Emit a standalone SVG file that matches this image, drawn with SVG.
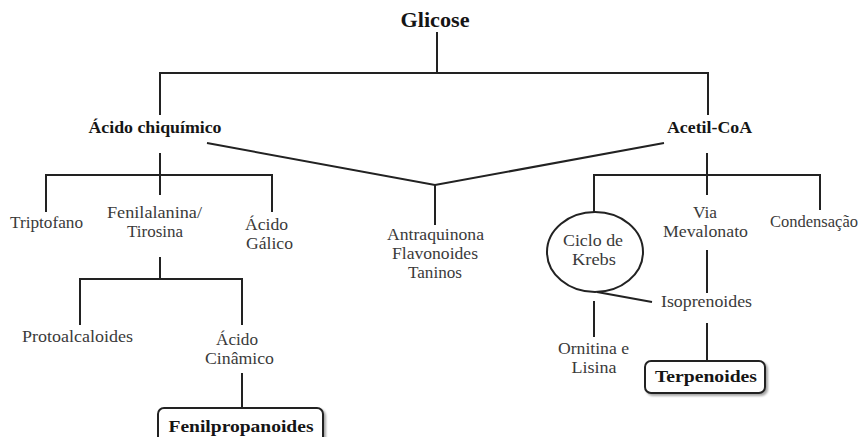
<svg xmlns="http://www.w3.org/2000/svg" width="867" height="437" viewBox="0 0 867 437">
<defs>
<style>
text{font-family:'Liberation Serif','Times New Roman',serif}
.t{font-size:16px;fill:#3a3a3a;text-anchor:middle}
.b{font-weight:bold;font-size:16px;fill:#151515;text-anchor:middle}
.ln{fill:none;stroke:#222;stroke-width:2}
.box{fill:#fff;stroke:#222;stroke-width:2}
</style>
<filter id="sh" x="-10%" y="-30%" width="130%" height="170%">
<feDropShadow dx="2" dy="2" stdDeviation="1.2" flood-color="#000" flood-opacity="0.35"/>
</filter>
</defs>
<rect width="867" height="437" fill="#fff"/>
<g id="connectors" class="ln">
<path d="M437 32V73"/>
<path d="M160 115V73H708V115"/>
<path d="M207 143L435 185L664 143"/>
<path d="M435 185V225"/>
<path d="M160 153V195"/>
<path d="M46 212V175H272V212"/>
<path d="M160 257V279"/>
<path d="M80 325V279H242V325"/>
<path d="M242 373V408"/>
<path d="M707 153V195"/>
<path d="M594 212V175H820V210"/>
<path d="M707 250V293"/>
<path d="M597 292L652 302"/>
<path d="M594 301V337"/>
<path d="M707 323V361"/>
</g>
<g id="glicose"><text class="b" x="435" y="27" style="font-size:20px" textLength="69" lengthAdjust="spacingAndGlyphs">Glicose</text></g>
<g id="acido-chiquimico"><text class="b" x="155" y="133" textLength="133" lengthAdjust="spacingAndGlyphs">Ácido chiquímico</text></g>
<g id="acetil-coa"><text class="b" x="709.5" y="133" textLength="85" lengthAdjust="spacingAndGlyphs">Acetil-CoA</text></g>
<g id="triptofano"><text class="t" x="46.5" y="228" textLength="73" lengthAdjust="spacingAndGlyphs">Triptofano</text></g>
<g id="fenilalanina"><text class="t" x="154.5" y="218" textLength="95" lengthAdjust="spacingAndGlyphs">Fenilalanina/</text><text class="t" x="155" y="237" textLength="56" lengthAdjust="spacingAndGlyphs">Tirosina</text></g>
<g id="acido-galico"><text class="t" x="266.5" y="230" textLength="43" lengthAdjust="spacingAndGlyphs">Ácido</text><text class="t" x="269.5" y="249" textLength="47" lengthAdjust="spacingAndGlyphs">Gálico</text></g>
<g id="antraquinona"><text class="t" x="435.5" y="240" textLength="97" lengthAdjust="spacingAndGlyphs">Antraquinona</text><text class="t" x="435" y="259" textLength="86" lengthAdjust="spacingAndGlyphs">Flavonoides</text><text class="t" x="435" y="278" textLength="54" lengthAdjust="spacingAndGlyphs">Taninos</text></g>
<g id="protoalcaloides"><text class="t" x="77.5" y="342" textLength="111" lengthAdjust="spacingAndGlyphs">Protoalcaloides</text></g>
<g id="acido-cinamico"><text class="t" x="237" y="345" textLength="42" lengthAdjust="spacingAndGlyphs">Ácido</text><text class="t" x="239.5" y="364" textLength="69" lengthAdjust="spacingAndGlyphs">Cinâmico</text></g>
<g id="fenilpropanoides"><rect class="box" x="158" y="408" width="165" height="40" rx="6" filter="url(#sh)"/><text class="b" x="241" y="432" style="font-size:17px" textLength="145" lengthAdjust="spacingAndGlyphs">Fenilpropanoides</text></g>
<g id="ciclo-krebs"><ellipse class="box" cx="595" cy="252" rx="48" ry="40"/><text class="t" x="593" y="246" textLength="60" lengthAdjust="spacingAndGlyphs">Ciclo de</text><text class="t" x="594" y="265" textLength="44" lengthAdjust="spacingAndGlyphs">Krebs</text></g>
<g id="via-mevalonato"><text class="t" x="705" y="218" textLength="24" lengthAdjust="spacingAndGlyphs">Via</text><text class="t" x="705.5" y="237" textLength="85" lengthAdjust="spacingAndGlyphs">Mevalonato</text></g>
<g id="condensacao"><text class="t" x="770" y="227" style="text-anchor:start" textLength="88" lengthAdjust="spacingAndGlyphs">Condensação</text></g>
<g id="isoprenoides"><text class="t" x="706.5" y="307" textLength="91" lengthAdjust="spacingAndGlyphs">Isoprenoides</text></g>
<g id="ornitina"><text class="t" x="593.5" y="354" textLength="71" lengthAdjust="spacingAndGlyphs">Ornitina e</text><text class="t" x="594" y="373" textLength="45" lengthAdjust="spacingAndGlyphs">Lisina</text></g>
<g id="terpenoides"><rect class="box" x="645" y="361" width="120" height="32" rx="6" filter="url(#sh)"/><text class="b" x="706" y="382" style="font-size:17px" textLength="102" lengthAdjust="spacingAndGlyphs">Terpenoides</text></g>
</svg>
